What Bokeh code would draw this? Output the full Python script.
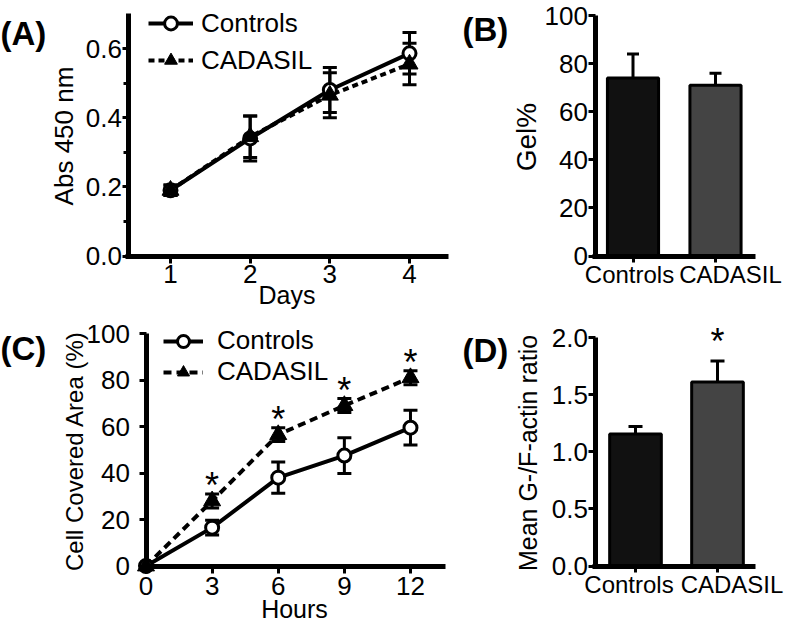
from bokeh.plotting import figure
from bokeh.models import (ColumnDataSource, Whisker, TeeHead, Legend, LegendItem, Label,
                          FixedTicker, NumeralTickFormatter, LinearAxis)
from bokeh.layouts import column, row
from bokeh.embed import file_html
from bokeh.resources import INLINE
from bokeh.core.properties import value

FONT = "Liberation Sans"

# ---------------- data ----------------
# (A) proliferation
days = [1, 2, 3, 4]
abs_controls = [0.19, 0.34, 0.48, 0.586]
abs_controls_err = [0.015, 0.065, 0.065, 0.06]
abs_cadasil = [0.19, 0.345, 0.465, 0.555]
abs_cadasil_err = [0.015, 0.06, 0.065, 0.06]
abs_ticks = [0.0, 0.2, 0.4, 0.6]
abs_minor_ticks = [0.1, 0.3, 0.5]

# (B) gel contraction
groups = ["Controls", "CADASIL"]
gel_pct = [74, 71]
gel_err = [10, 5]
gel_ticks = [0, 20, 40, 60, 80, 100]

# (C) wound healing
hours = [0, 3, 6, 9, 12]
area_controls = [0, 16.5, 38, 47.5, 59.5]
area_controls_err = [0, 3.2, 6.7, 7.7, 7.5]
area_cadasil = [0, 28, 56.5, 69, 81]
area_cadasil_err = [0, 3, 3, 3, 3]
area_sig = [False, True, True, True, True]
area_ticks = [0, 20, 40, 60, 80, 100]

# (D) G-/F-actin ratio
gf_ratio = [1.155, 1.61]
gf_err = [0.065, 0.185]
gf_sig = [False, True]
gf_ticks = [0.0, 0.5, 1.0, 1.5, 2.0]

bar_colors = ["#111111", "#444444"]
group_idx = list(range(len(groups)))

ROW_H = 316
LEFT_W = 452
RIGHT_W = 335


class Map:
    """pixel <-> data mapping for a panel canvas (canvas y grows downward)."""
    def __init__(self, w, h, x0, px0, kx, y0, py0, ky):
        self.w, self.h = w, h
        self.x0, self.px0, self.kx = x0, px0, kx
        self.y0, self.py0, self.ky = y0, py0, ky

    def x(self, px):
        return self.x0 + (px - self.px0) / self.kx

    def y(self, py):
        return self.y0 + (self.py0 - py) / self.ky

    def xr(self):
        return (self.x(0), self.x(self.w))

    def yr(self):
        return (self.y(self.h), self.y(0))


def make_fig(m):
    p = figure(width=m.w, height=m.h, x_range=m.xr(), y_range=m.yr(),
               output_backend="svg", toolbar_location=None,
               min_border_left=0, min_border_right=0, min_border_top=0, min_border_bottom=0)
    p.outline_line_color = None
    p.xgrid.grid_line_color = None
    p.ygrid.grid_line_color = None
    p.background_fill_color = "white"
    p.border_fill_color = "white"
    return p


def style_axes(p, xloc, yloc, xbounds, ybounds, ytick_px="26px", xtick_px="26px",
               ylabel_px="26px", xlabel_px="25px"):
    p.yaxis.fixed_location = xloc
    p.xaxis.fixed_location = yloc
    p.xaxis.bounds = xbounds
    p.yaxis.bounds = ybounds
    for ax in p.axis:
        ax.axis_line_width = 5
        ax.axis_line_color = "black"
        ax.major_tick_line_width = 3
        ax.major_tick_line_color = "black"
        ax.major_tick_out = 7
        ax.major_tick_in = 0
        ax.minor_tick_line_width = 3
        ax.minor_tick_line_color = "black"
        ax.minor_tick_out = 5
        ax.minor_tick_in = 0
        ax.major_label_text_font = FONT
        ax.major_label_text_color = "black"
        ax.axis_label_text_font = FONT
        ax.axis_label_text_font_style = "normal"
        ax.axis_label_text_color = "black"
    p.yaxis.major_label_text_font_size = ytick_px
    p.xaxis.major_label_text_font_size = xtick_px
    p.yaxis.axis_label_text_font_size = ylabel_px
    p.xaxis.axis_label_text_font_size = xlabel_px


def panel_label(p, text, x, y):
    p.add_layout(Label(x=x, y=y, x_units="screen", y_units="screen", text=text,
                       text_font=FONT, text_font_style="bold", text_font_size="33px",
                       text_baseline="alphabetic", text_align="left", text_color="black"))


def err_source(x, y, e):
    xs, lo, hi = [], [], []
    for a, b, c in zip(x, y, e):
        if c > 0:
            xs.append(a)
            lo.append(b - c)
            hi.append(b + c)
    return ColumnDataSource(dict(x=xs, lo=lo, hi=hi))


def whisker(p, src, cap):
    p.add_layout(Whisker(base="x", lower="lo", upper="hi", source=src,
                         line_width=3, line_color="black",
                         upper_head=TeeHead(size=cap, line_width=3, line_color="black"),
                         lower_head=TeeHead(size=cap, line_width=3, line_color="black")))


def line_panel(p, x, yc, ec, yd, ed, dash, legend_loc, gw, gh, sp, standoff):
    src_c = ColumnDataSource(dict(x=x, y=yc))
    src_d = ColumnDataSource(dict(x=x, y=yd))
    whisker(p, err_source(x, yc, ec), 14)
    whisker(p, err_source(x, yd, ed), 14)
    ld = p.line("x", "y", source=src_d, line_color="black", line_width=4, line_dash=dash)
    lc = p.line("x", "y", source=src_c, line_color="black", line_width=4)
    mc = p.scatter("x", "y", source=src_c, marker="circle", size=13,
                   fill_color="white", line_color="black", line_width=3)
    md = p.scatter("x", "y", source=src_d, marker="triangle", size=17,
                   fill_color="black", line_color="black", line_width=1)
    leg = Legend(items=[LegendItem(label=value("Controls"), renderers=[lc, mc]),
                        LegendItem(label=value("CADASIL"), renderers=[ld, md])],
                 location=legend_loc, glyph_width=gw, glyph_height=gh, label_height=gh,
                 spacing=sp, padding=0, margin=0, label_standoff=standoff,
                 border_line_color=None, background_fill_alpha=0,
                 label_text_font=FONT, label_text_font_size="26px", label_text_color="black")
    p.add_layout(leg)


def bar_panel(p, m, vals, errs, width, cap, label_px):
    src = ColumnDataSource(dict(x=group_idx, v=vals, hi=[a + b for a, b in zip(vals, errs)],
                                c=bar_colors))
    p.add_layout(Whisker(base="x", lower="v", upper="hi", source=src, line_width=3,
                         line_color="black",
                         upper_head=TeeHead(size=cap, line_width=3, line_color="black"),
                         lower_head=None))
    p.vbar(x="x", top="v", width=width, source=src, fill_color="c",
           line_color="black", line_width=3)
    # tick marks at the bar centres (no text)
    p.xaxis.ticker = FixedTicker(ticks=group_idx)
    p.xaxis.major_label_overrides = {i: "" for i in group_idx}
    # category names, spread apart as in the original figure
    label_pos = [round(m.x(px), 4) for px in label_px]
    names = LinearAxis(ticker=FixedTicker(ticks=label_pos),
                       major_label_overrides={pos: g for pos, g in zip(label_pos, groups)},
                       fixed_location=0, axis_line_color=None,
                       major_tick_line_color=None, minor_tick_line_color=None,
                       major_tick_out=6, major_label_standoff=-1,
                       major_label_text_font=FONT, major_label_text_font_size="24px",
                       major_label_text_color="black")
    p.add_layout(names, "below")


# ---------------- (A) ----------------
mA = Map(LEFT_W, ROW_H, days[0], 170, 79.67, 0.0, 255.5, 345.8)
pA = make_fig(mA)
line_panel(pA, days, abs_controls, abs_controls_err, abs_cadasil, abs_cadasil_err,
           "6 4", (148, 240), 45, 32, 5, 8)
pA.xaxis.ticker = FixedTicker(ticks=days)
pA.yaxis.ticker = FixedTicker(ticks=abs_ticks, minor_ticks=abs_minor_ticks)
pA.yaxis.formatter = NumeralTickFormatter(format="0.0")
pA.xaxis.axis_label = "Days"
pA.yaxis.axis_label = "Abs 450 nm"
style_axes(pA, mA.x(127.5), 0.0, (mA.x(125), mA.x(448)), (mA.y(258), 0.7))
pA.yaxis.major_tick_out = 6
pA.yaxis.major_label_standoff = 0
pA.yaxis.axis_label_standoff = 4
pA.xaxis.major_label_standoff = 2
pA.xaxis.axis_label_standoff = -6
panel_label(pA, "(A)", 0, ROW_H - 33)

# ---------------- (B) ----------------
mB = Map(RIGHT_W, ROW_H, 0, 180.5, 82.5, 0, 255.5, 2.405)
pB = make_fig(mB)
pB.yaxis.ticker = FixedTicker(ticks=gel_ticks)
pB.yaxis.axis_label = "Gel%"
style_axes(pB, mB.x(142.5), 0, (mB.x(140), mB.x(303)), (mB.y(258), 100), ylabel_px="28px")
pB.yaxis.major_label_standoff = 0
pB.yaxis.axis_label_standoff = 0
pB.xaxis.major_tick_out = 6
bar_panel(pB, mB, gel_pct, gel_err, 0.62, 12, [177, 278])
panel_label(pB, "(B)", 10, ROW_H - 29)

# ---------------- (C) ----------------
mC = Map(LEFT_W, ROW_H, 0, 145.5, 22.04, 0, 249.5, 2.325)
pC = make_fig(mC)
line_panel(pC, hours, area_controls, area_controls_err, area_cadasil, area_cadasil_err,
           "8 5", (163, 245), 40, 30, 0, 14)
star_x = [h for h, s in zip(hours, area_sig) if s]
star_y = [v + e + 3.5 for v, e, s in zip(area_cadasil, area_cadasil_err, area_sig) if s]
pC.text(x=star_x, y=star_y, text=["*"] * len(star_x), text_font=value(FONT),
        text_font_size="36px", text_align="center", text_baseline="middle", text_color="black")
pC.xaxis.ticker = FixedTicker(ticks=hours)
pC.yaxis.ticker = FixedTicker(ticks=area_ticks)
pC.xaxis.axis_label = "Hours"
pC.yaxis.axis_label = "Cell Covered Area (%)"
style_axes(pC, 0, 0, (mC.x(143), mC.x(445)), (mC.y(252), 100), ylabel_px="24px")
pC.yaxis.major_label_standoff = 9
pC.yaxis.axis_label_standoff = -4
pC.xaxis.major_label_standoff = 4
pC.xaxis.axis_label_standoff = -4
panel_label(pC, "(C)", 0, ROW_H - 32)

# ---------------- (D) ----------------
mD = Map(RIGHT_W, ROW_H, 0, 183, 82.0, 0, 249.5, 114.25)
pD = make_fig(mD)
sx = [i for i, s in zip(group_idx, gf_sig) if s]
sy = [v + e + 0.17 for v, e, s in zip(gf_ratio, gf_err, gf_sig) if s]
pD.text(x=sx, y=sy, text=["*"] * len(sx), text_font=value(FONT),
        text_font_size="36px", text_align="center", text_baseline="middle", text_color="black")
pD.yaxis.ticker = FixedTicker(ticks=gf_ticks)
pD.yaxis.formatter = NumeralTickFormatter(format="0.0")
pD.yaxis.axis_label = "Mean G-/F-actin ratio"
style_axes(pD, mD.x(142.5), 0, (mD.x(140), mD.x(303)), (mD.y(252), 2.0), ylabel_px="25px")
pD.yaxis.major_label_standoff = 0
pD.yaxis.axis_label_standoff = 7
pD.xaxis.major_tick_out = 6
bar_panel(pD, mD, gf_ratio, gf_err, 0.63, 14, [176.5, 279.5])
panel_label(pD, "(D)", 10, ROW_H - 34)

layout = column(row(pA, pB), row(pC, pD))
open("out.html", "w").write(file_html(layout, INLINE))
